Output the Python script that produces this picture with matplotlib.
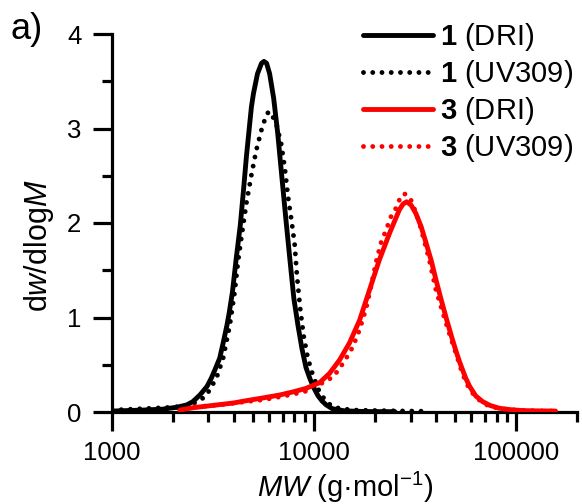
import numpy as np
import matplotlib
matplotlib.use("Agg")
import matplotlib.pyplot as plt
from matplotlib.ticker import FixedLocator, FixedFormatter, LogLocator, NullFormatter

plt.rcParams['font.family'] = ['Liberation Sans', 'DejaVu Sans']
plt.rcParams['mathtext.fontset'] = 'custom'
plt.rcParams['mathtext.rm'] = 'Liberation Sans'
plt.rcParams['mathtext.it'] = 'Liberation Sans:italic'
plt.rcParams['mathtext.bf'] = 'Liberation Sans:bold'

# ---- data (log10 of MW, dw/dlogM) ----
s1_dri_logm = [3.00, 3.15, 3.25, 3.32, 3.37, 3.40, 3.435, 3.47, 3.492, 3.51, 3.533, 3.55,
               3.569, 3.58, 3.596, 3.615, 3.635, 3.65, 3.665, 3.68, 3.69, 3.70, 3.72, 3.74,
               3.752, 3.765, 3.78, 3.80, 3.82, 3.84, 3.86, 3.88, 3.90, 3.92, 3.94, 3.96,
               3.98, 4.00, 4.02, 4.04, 4.06, 4.09, 4.15, 4.25, 4.40]
s1_dri_val = [0.01, 0.02, 0.03, 0.05, 0.075, 0.11, 0.18, 0.27, 0.36, 0.45, 0.57, 0.73,
              0.92, 1.05, 1.27, 1.63, 1.98, 2.33, 2.70, 3.02, 3.23, 3.37, 3.58, 3.69,
              3.71, 3.69, 3.58, 3.32, 2.95, 2.50, 2.05, 1.62, 1.20, 0.92, 0.67, 0.47,
              0.35, 0.25, 0.17, 0.115, 0.075, 0.035, 0.012, 0.005, 0.003]

s1_uv_logm = [3.00, 3.10, 3.20, 3.30, 3.36, 3.40, 3.44, 3.468, 3.517, 3.55, 3.583, 3.607,
              3.624, 3.648, 3.665, 3.69, 3.714, 3.739, 3.76, 3.775, 3.79, 3.813, 3.837,
              3.854, 3.871, 3.89, 3.904, 3.915, 3.931, 3.948, 3.969, 3.994, 4.027, 4.06,
              4.09, 4.13, 4.20, 4.40, 4.55]
s1_uv_val = [0.02, 0.03, 0.04, 0.05, 0.065, 0.09, 0.13, 0.18, 0.36, 0.57, 0.92, 1.27,
             1.60, 1.96, 2.21, 2.51, 2.77, 2.98, 3.12, 3.18, 3.15, 3.05, 2.84,
             2.60, 2.28, 2.00, 1.77, 1.45, 1.10, 0.81, 0.57, 0.39, 0.21, 0.11,
             0.06, 0.035, 0.02, 0.012, 0.008]

s3_dri_logm = [3.336, 3.40, 3.50, 3.60, 3.665, 3.75, 3.83, 3.90, 3.96, 4.027, 4.077, 4.126,
               4.175, 4.225, 4.274, 4.323, 4.373, 4.422, 4.44, 4.458, 4.48, 4.504, 4.53,
               4.554, 4.58, 4.603, 4.63, 4.653, 4.68, 4.70, 4.72, 4.75, 4.77, 4.80, 4.834,
               4.87, 4.916, 4.97, 5.03, 5.10, 5.195]
s3_dri_val = [0.02, 0.045, 0.07, 0.095, 0.12, 0.15, 0.18, 0.215, 0.25, 0.31, 0.41, 0.55,
              0.73, 0.97, 1.29, 1.61, 1.89, 2.14, 2.20, 2.225, 2.19, 2.10, 1.96,
              1.79, 1.60, 1.40, 1.18, 1.00, 0.80, 0.66, 0.53, 0.36, 0.27, 0.17, 0.11,
              0.07, 0.04, 0.025, 0.015, 0.012, 0.01]

s3_uv_logm = [3.277, 3.35, 3.45, 3.55, 3.665, 3.75, 3.83, 3.90, 3.96, 4.00, 4.043, 4.093,
              4.126, 4.159, 4.192, 4.225, 4.258, 4.282, 4.307, 4.331, 4.357, 4.381,
              4.406, 4.425, 4.443, 4.46, 4.48, 4.50, 4.521, 4.545, 4.57, 4.603, 4.63,
              4.653, 4.68, 4.702, 4.735, 4.76, 4.784, 4.83, 4.87, 4.92, 5.00, 5.10, 5.19]
s3_uv_val = [0.04, 0.05, 0.06, 0.08, 0.11, 0.13, 0.16, 0.19, 0.22, 0.26, 0.31, 0.37,
             0.46, 0.57, 0.69, 0.87, 1.10, 1.33, 1.59, 1.79, 1.93, 2.07,
             2.16, 2.26, 2.31, 2.30, 2.24, 2.13, 2.00, 1.81, 1.61, 1.29, 1.10,
             0.94, 0.76, 0.62, 0.40, 0.28, 0.20, 0.10, 0.06, 0.035, 0.02, 0.012, 0.01]

labels = [r"$\mathbf{1}$ (DRI)", r"$\mathbf{1}$ (UV309)", r"$\mathbf{3}$ (DRI)", r"$\mathbf{3}$ (UV309)"]
xtick_vals = [1000, 10000, 100000]
xtick_labels = ["1000", "10000", "100000"]
ytick_vals = [0, 1, 2, 3, 4]

# ---- figure ----
W, H = 582, 504
fig = plt.figure(figsize=(W / 100, H / 100), dpi=100)
ax = fig.add_axes([112 / W, 1 - 412 / H, (577 - 112) / W, (412 - 34) / H])

lw_solid = 3.5
lw_dot = 3.5
dot_style = (0, (0.001, 1.9))

def tolin(lst):
    return np.power(10.0, np.asarray(lst))

ax.plot(tolin(s1_dri_logm), s1_dri_val, color='black', lw=lw_solid, label=labels[0],
        solid_capstyle='round', solid_joinstyle='round', zorder=4)
ax.plot(tolin(s1_uv_logm), s1_uv_val, color='black', lw=lw_dot, ls=dot_style,
        dash_capstyle='round', label=labels[1], zorder=3)
ax.plot(tolin(s3_dri_logm), s3_dri_val, color='#ff0000', lw=lw_solid, label=labels[2],
        solid_capstyle='round', solid_joinstyle='round', zorder=4)
ax.plot(tolin(s3_uv_logm), s3_uv_val, color='#ff0000', lw=lw_dot, ls=dot_style,
        dash_capstyle='round', label=labels[3], zorder=3)

ax.set_xscale('log')
ax.set_xlim(1000, 200000)
ax.set_ylim(0, 4)

for sp in ['top', 'right']:
    ax.spines[sp].set_visible(False)
for sp in ['left', 'bottom']:
    ax.spines[sp].set_linewidth(2.3)

ax.xaxis.set_major_locator(FixedLocator(xtick_vals))
ax.xaxis.set_major_formatter(FixedFormatter(xtick_labels))
ax.xaxis.set_minor_locator(LogLocator(base=10, subs=np.arange(2, 10)))
ax.xaxis.set_minor_formatter(NullFormatter())
ax.set_yticks(ytick_vals)
ax.set_yticks(np.arange(0.5, 4, 1.0), minor=True)

ax.tick_params(which='major', direction='out', length=14, width=2.3, labelsize=18.5, pad=7)
ax.tick_params(which='minor', direction='out', length=7, width=2.3)
ax.tick_params(axis='y', which='major', pad=8)

fig.text(345 / W, 1 - 487 / H, r"$MW$ (g·mol$^{-1}$)", ha='center', va='center', fontsize=21)
fig.text(39 / W, 1 - 246 / H, r"d$w$/dlog$M$", ha='center', va='center', rotation=90,
         fontsize=22)
fig.text(10 / W, 1 - 12 / H, "a)", ha='left', va='top', fontsize=26)

leg = ax.legend(loc='upper left', bbox_to_anchor=(363 / W, 1 - 21 / H),
                bbox_transform=fig.transFigure, frameon=False, fontsize=21,
                handlelength=2.4, handletextpad=0.25, labelspacing=0.17,
                borderpad=0, borderaxespad=0)

fig.savefig("out.png", dpi=100)
